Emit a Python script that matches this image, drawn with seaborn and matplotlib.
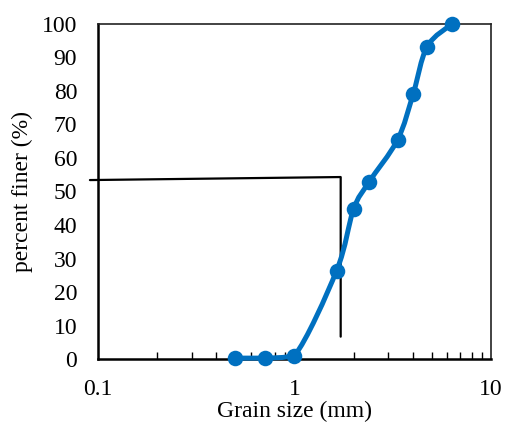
import numpy as np
import pandas as pd
import matplotlib
matplotlib.use("Agg")
import matplotlib.pyplot as plt
import seaborn as sns
from matplotlib.path import Path
from matplotlib.patches import PathPatch

grain_size = [0.5, 0.71, 1.0, 1.64, 2.0, 2.39, 3.35, 4.02, 4.74, 6.35]
percent_finer = [0.3, 0.3, 1.0, 26.4, 44.7, 52.7, 65.4, 79.0, 93.2, 100.0]
guide_x = [0.091, 1.72, 1.72]
guide_y = [53.4, 54.3, 6.7]
x_ticks = [0.1, 1, 10]
x_tick_labels = ["0.1", "1", "10"]
y_ticks = list(range(0, 101, 10))

sns.set_theme(style="white")
plt.rcParams["font.family"] = ["Liberation Serif", "DejaVu Serif"]

fig = plt.figure(figsize=(5.05, 4.25), dpi=100)
ax = fig.add_axes([0.194, 0.155, 0.778, 0.789])
blue = "#0070C0"

df = pd.DataFrame({"size": grain_size, "finer": percent_finer})
ax.set_xscale("log")
ax.set_xlim(0.1, 10)
ax.set_ylim(0, 100)

# smoothed curve (Excel-like Bezier) in log-x space, control points kept within segment range
lx = np.log10(df["size"].values)
ly = df["finer"].values
n = len(lx)
verts = [(10 ** lx[0], ly[0])]
codes = [Path.MOVETO]
for i in range(n - 1):
    p0 = np.array([lx[max(i - 1, 0)], ly[max(i - 1, 0)]])
    p1 = np.array([lx[i], ly[i]])
    p2 = np.array([lx[i + 1], ly[i + 1]])
    p3 = np.array([lx[min(i + 2, n - 1)], ly[min(i + 2, n - 1)]])
    c1 = p1 + (p2 - p0) / 6
    c2 = p2 - (p3 - p1) / 6
    lo, hi = min(p1[1], p2[1]), max(p1[1], p2[1])
    c1[1] = np.clip(c1[1], lo, hi)
    c2[1] = np.clip(c2[1], lo, hi)
    for c in (c1, c2, p2):
        verts.append((10 ** c[0], c[1]))
        codes.append(Path.CURVE4)
patch = PathPatch(Path(verts, codes), facecolor="none", edgecolor=blue,
                  lw=3.6, transform=ax.transData, zorder=3, clip_on=False)
ax.add_patch(patch)

sns.scatterplot(data=df, x="size", y="finer", ax=ax, color=blue, s=125,
                edgecolor=blue, linewidth=0, zorder=4, clip_on=False, legend=False)

ax.plot(guide_x, guide_y, color="black", lw=1.6, clip_on=False, zorder=2)

ax.set_xticks(x_ticks)
ax.set_xticklabels(x_tick_labels)
ax.set_yticks(y_ticks)
ax.tick_params(axis="both", which="both", direction="in", labelsize=17,
               color="black", labelcolor="black")
ax.tick_params(axis="both", which="major", length=6, width=1.2)
ax.tick_params(axis="x", which="minor", length=5, width=1.0, bottom=True)
ax.tick_params(axis="x", which="major", pad=14)
ax.tick_params(axis="y", which="major", pad=15)
ax.xaxis.set_minor_locator(matplotlib.ticker.LogLocator(base=10, subs=np.arange(2, 10)))
ax.xaxis.set_minor_formatter(matplotlib.ticker.NullFormatter())

for side in ["left", "bottom"]:
    ax.spines[side].set_color("black")
    ax.spines[side].set_linewidth(1.8)
for side in ["top", "right"]:
    ax.spines[side].set_color("#222222")
    ax.spines[side].set_linewidth(1.2)
    ax.spines[side].set_visible(True)

ax.set_xlabel("Grain size (mm)", fontsize=17, color="black", labelpad=1)
ax.set_ylabel("percent finer (%)", fontsize=17, color="black", labelpad=6)

fig.savefig("out.png", dpi=100)
